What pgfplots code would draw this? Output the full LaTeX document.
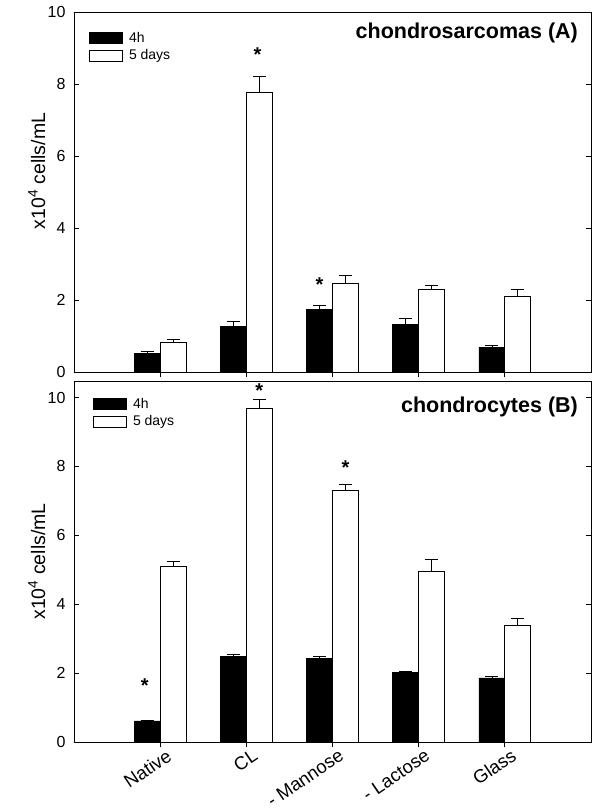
\documentclass[border=0pt]{standalone}
\usepackage{fontspec}
\setmainfont{Liberation Sans}
\usepackage{pgfplots}
\pgfplotsset{compat=1.18}
\usepackage{pgfplotstable}

\pgfplotstableread{
x  b    be    w    we
0  0.52 0.06  0.83 0.08
1  1.27 0.14  7.77 0.44
2  1.74 0.10  2.46 0.21
3  1.31 0.18  2.30 0.10
4  0.69 0.04  2.11 0.19
}\dataA

\pgfplotstableread{
x  b    be    w    we
0  0.61 0.03  5.10 0.14
1  2.48 0.06  9.69 0.27
2  2.42 0.06  7.29 0.18
3  2.01 0.05  4.95 0.36
4  1.86 0.04  3.39 0.21
}\dataB

\pgfplotsset{
  panel/.style={
    scale only axis,
    width=517pt,
    xmin=-1, xmax=5,
    ymin=0,
    axis line style={line width=0.8pt},
    tick style={line width=0.8pt, black},
    tick align=inside,
    major tick length=5pt,
    xtick={0,1,2,3,4},
    xtick pos=bottom,
    xtick style={yshift=-5.5pt},
    ytick={0,2,4,6,8,10},
    ytick pos=both,
    yticklabel pos=left,
    /pgf/number format/assume math mode=true,
    ticklabel style={font=\fontsize{16}{19}\selectfont},
    yticklabel style={xshift=-5pt},
    ylabel={x10\textsuperscript{4} cells/mL},
    ylabel style={font=\fontsize{19.5}{23}\selectfont, anchor=center},
    legend image code/.code={\draw[#1, line width=0.8pt] (0pt,-5.5pt) rectangle (33pt,5.5pt);},
    legend style={draw=none, fill=none, font=\fontsize{14}{17}\selectfont,
      row sep=2pt, inner sep=0pt, at={(0,1)}, anchor=north west,
      nodes={inner xsep=6pt}},
    legend cell align=left,
    clip=false,
  },
  errs/.style={
    error bars/y dir=plus, error bars/y explicit,
    error bars/error bar style={line width=0.8pt, black},
    error bars/error mark options={rotate=90, mark size=6.5pt, line width=0.8pt, black}},
  blackbar/.style={ybar, bar width=0.3, bar shift=0, fill=black, draw=black, line width=0.8pt, errs},
  whitebar/.style={ybar, bar width=0.3, bar shift=0, fill=white, draw=black, line width=0.8pt, errs},
}

\begin{document}
\begin{tikzpicture}
\useasboundingbox (0pt,0pt) rectangle (600pt,810pt);

% Top panel (A)
\begin{axis}[panel,
  at={(74pt,438pt)}, anchor=south west,
  height=360pt,
  ymax=10,
  xticklabels={},
  ylabel style={at={(axis description cs:-0.072,0.558)}},
  legend style={xshift=15pt, yshift=-18pt},
]
\addplot[forget plot, blackbar] table[x expr=\thisrow{x}-0.15, y=b, y error=be] {\dataA};
\addplot[forget plot, whitebar] table[x expr=\thisrow{x}+0.15, y=w, y error=we] {\dataA};
\addlegendimage{fill=black, draw=black}
\addlegendentry{4h}
\addlegendimage{fill=white, draw=black}
\addlegendentry{5 days}
\node[anchor=east, inner sep=0pt, font=\bfseries\fontsize{21.5}{25}\selectfont] at (axis description cs:0.975,0.942) {chondrosarcomas (A)};
\node[inner sep=0pt, font=\bfseries\fontsize{20}{24}\selectfont, yshift=-4pt] at (axis cs:1.13,8.94) {*};
\node[inner sep=0pt, font=\bfseries\fontsize{20}{24}\selectfont, yshift=-4pt] at (axis cs:1.85,2.53) {*};
\end{axis}

% Bottom panel (B)
\begin{axis}[panel,
  at={(74pt,68pt)}, anchor=south west,
  height=361pt,
  ymax=10.48,
  xticklabels={Native, CL, - Mannose, - Lactose, Glass},
  xticklabel style={rotate=34, anchor=north east, inner sep=1pt, xshift=2pt, yshift=-7pt, font=\fontsize{18.5}{22}\selectfont},
  ylabel style={at={(axis description cs:-0.072,0.5)}},
  legend style={xshift=19pt, yshift=-15pt},
]
\addplot[forget plot, blackbar] table[x expr=\thisrow{x}-0.15, y=b, y error=be] {\dataB};
\addplot[forget plot, whitebar] table[x expr=\thisrow{x}+0.15, y=w, y error=we] {\dataB};
\addlegendimage{fill=black, draw=black}
\addlegendentry{4h}
\addlegendimage{fill=white, draw=black}
\addlegendentry{5 days}
\node[anchor=east, inner sep=0pt, font=\bfseries\fontsize{21.5}{25}\selectfont] at (axis description cs:0.975,0.929) {chondrocytes (B)};
\node[inner sep=0pt, font=\bfseries\fontsize{20}{24}\selectfont, yshift=-4pt] at (axis cs:-0.18,1.75) {*};
\node[inner sep=0pt, font=\bfseries\fontsize{20}{24}\selectfont, yshift=-4pt] at (axis cs:1.15,10.33) {*};
\node[inner sep=0pt, font=\bfseries\fontsize{20}{24}\selectfont, yshift=-4pt] at (axis cs:2.15,8.07) {*};
\end{axis}
\end{tikzpicture}
\end{document}
